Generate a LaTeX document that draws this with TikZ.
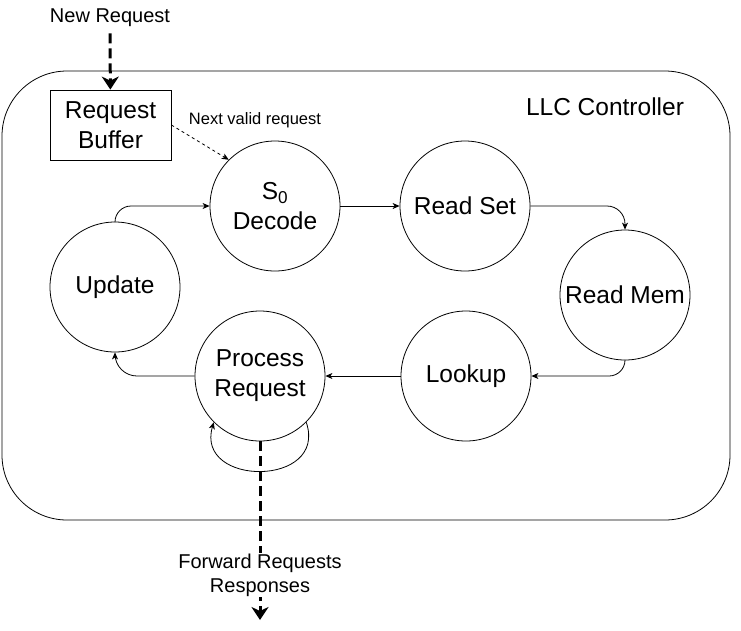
\documentclass[tikz,border=0pt]{standalone}
\usepackage{fontspec}
\setmainfont{Liberation Sans}
\usetikzlibrary{arrows.meta}
\begin{document}
\begin{tikzpicture}[x=1pt,y=-1pt,
	state/.style={draw,circle,line width=0.8pt,minimum size=130pt,inner sep=0pt,align=center,font=\fontsize{24.5}{30}\selectfont},
	trans/.style={line width=0.8pt,-{Stealth[length=7pt,width=6pt,inset=2pt]}},
	bigflow/.style={line width=3pt,dash pattern=on 10pt off 5pt,-{Stealth[length=13pt,width=17pt,inset=4pt]}},
	midtext/.style={font=\fontsize{20}{24}\selectfont,align=center},
	smalltext/.style={font=\fontsize{16.5}{20}\selectfont}]
	\useasboundingbox (0,0) rectangle (741,630);
	\draw[line width=0.8pt,rounded corners=65pt] (2,71) rectangle (730,520);
	\node[midtext] (newreq) at (110,18) {New Request};
	\node[draw,line width=0.8pt,minimum width=121pt,minimum height=70pt,inner sep=0pt,align=center,font=\fontsize{24.5}{30}\selectfont] (buf) at (110.5,125) {Request\\Buffer};
	\node[font=\fontsize{24.5}{30}\selectfont] (llc) at (605,107) {LLC Controller};
	\node[state] (s0) at (275,206) {S\textsubscript{0}\\Decode};
	\node[state] (rs) at (465,206) {Read Set};
	\node[state] (rm) at (625,295) {Read Mem};
	\node[state] (lk) at (466,376) {Lookup};
	\node[state] (pr) at (260,376) {Process\\Request};
	\node[state] (upd) at (115,287) {Update};
	\draw[bigflow,shorten <=3pt] (newreq) -- (buf);
	\draw[trans,dash pattern=on 3pt off 3pt] (buf.east) -- (s0.135);
	\node[smalltext] (nvr) at (255,120) {Next valid request};
	\draw[trans] (s0) -- (rs);
	\draw[trans,rounded corners=18pt] (rs.east) -| (rm.north);
	\draw[trans,rounded corners=16pt] (rm.south) |- (lk.east);
	\draw[trans] (lk) -- (pr);
	\draw[trans,rounded corners=22pt] (pr.west) -| (upd.south);
	\draw[trans,rounded corners=16pt] (upd.north) |- (s0.west);
	\draw[trans] (pr.-45) .. controls +(22,65) and +(-19,65) .. (pr.-135);
	\coordinate (out) at (260,620);
	\draw[bigflow] (pr) -- (out);
	\node[midtext,fill=white,inner sep=1pt] (fwd) at (260,575) {Forward Requests\\Responses};
\end{tikzpicture}
\end{document}
